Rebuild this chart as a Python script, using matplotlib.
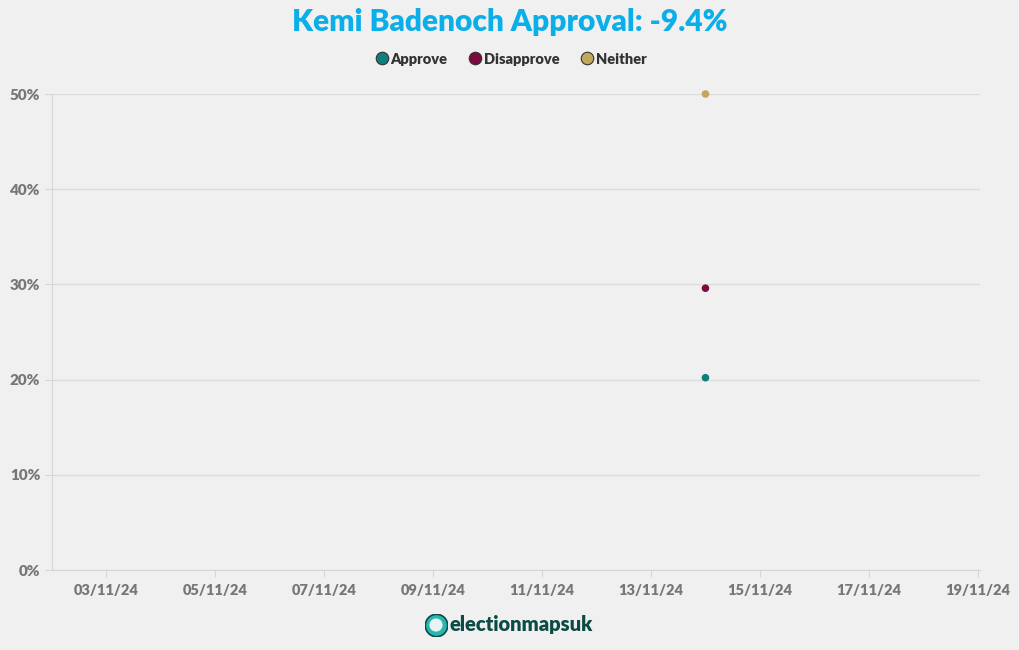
import matplotlib
matplotlib.use("Agg")
import matplotlib.pyplot as plt
import matplotlib.dates as mdates
from matplotlib.lines import Line2D
from datetime import datetime

# poll data
dates = [datetime(2024, 11, 14)]
approve = [20.2]
disapprove = [29.6]
neither = [50.0]
series = ["Approve", "Disapprove", "Neither"]
colors = ["#0e7f7f", "#7b0a3e", "#c2a85d"]
net = approve[-1] - disapprove[-1]

plt.rcParams['font.family'] = ['Lato', 'DejaVu Sans']
bg = "#f0f0f0"

fig = plt.figure(figsize=(10.2, 6.5), dpi=100, facecolor=bg)
ax = fig.add_axes([52/1020, 80/650, 928/1020, 476/650], facecolor=bg)

for vals, c, name in zip([approve, disapprove, neither], colors, series):
    ax.scatter(dates, vals, s=30, color=c, zorder=3, label=name,
               edgecolors="none", clip_on=False)

ax.set_ylim(0, 50)
ax.set_yticks(range(0, 51, 10))
ax.set_yticklabels([f"{v}%" for v in range(0, 51, 10)])
ax.set_xlim(datetime(2024, 11, 2), datetime(2024, 11, 19, 1))
ax.xaxis.set_major_locator(mdates.DayLocator(bymonthday=range(3, 31, 2)))
ax.xaxis.set_major_formatter(mdates.DateFormatter("%d/%m/%y"))

ax.grid(axis="y", color="#dcdcdc", linewidth=1)
ax.set_axisbelow(True)
for s in ["top", "right"]:
    ax.spines[s].set_visible(False)
for s in ["left", "bottom"]:
    ax.spines[s].set_color("#d6d6d6")
ax.tick_params(colors="#d6d6d6", labelcolor="#777777", labelsize=10.5, length=5)
for lab in ax.get_xticklabels() + ax.get_yticklabels():
    lab.set_fontweight("heavy")
ax.tick_params(axis="x", pad=5)
ax.tick_params(axis="y", labelsize=11)

fig.text(0.5, 1 - 22/650, f"Kemi Badenoch Approval: {net:.1f}%", ha="center", va="center",
         fontsize=21.5, fontweight="heavy", color="#0aaee8")

handles = [Line2D([], [], marker="o", linestyle="none", markersize=9,
                  markerfacecolor=c, markeredgecolor="#333333", markeredgewidth=0.8)
           for c in colors]
fig.legend(handles, series, loc="center", bbox_to_anchor=(0.5, 1 - 59/650), ncol=3,
           frameon=False, handletextpad=0.0, handlelength=1.2, columnspacing=1.3,
           prop={"weight": "heavy", "size": 10.5}, labelcolor="#333333")

# logo
ax_logo = fig.add_axes([425/1020, 1 - 636/650, 22/1020, 22/650])
ax_logo.set_axis_off()
ax_logo.scatter([0], [0], s=260, color="#2bb5b0", edgecolors="#0b4a45", linewidths=1.2)
ax_logo.scatter([0], [0], s=90, color="#e8f4f2", edgecolors="none")
ax_logo.set_xlim(-1, 1)
ax_logo.set_ylim(-1, 1)
fig.text(450/1020, 1 - 625/650, "electionmapsuk", ha="left", va="center",
         fontsize=14.5, fontweight="heavy", color="#0b4a45")

fig.savefig("out.png", dpi=100, facecolor=bg)
